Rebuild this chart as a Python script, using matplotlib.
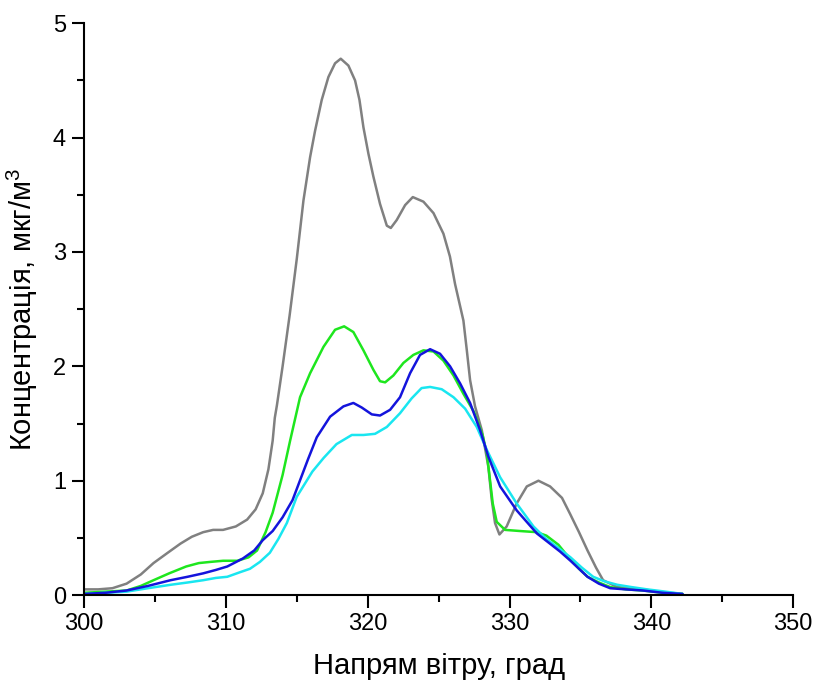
import matplotlib
matplotlib.use("Agg")
import matplotlib.pyplot as plt
from matplotlib.ticker import MultipleLocator

plt.rcParams['font.family'] = ['Liberation Sans', 'DejaVu Sans']
plt.rcParams['mathtext.fontset'] = 'custom'
plt.rcParams['mathtext.rm'] = 'Liberation Sans'
plt.rcParams['mathtext.it'] = 'Liberation Sans'

# Gray series
gray_x = [300, 301, 302, 303, 304, 304.9, 305.9, 306.8, 307.6, 308.4, 309.1, 309.8, 310.7,
          311.5, 312.1, 312.6, 313.0, 313.3, 313.45, 313.6, 314.0, 314.5, 315.0, 315.47,
          315.94, 316.29, 316.76, 317.23, 317.7, 318.1, 318.64, 319.11, 319.42, 319.7,
          320.05, 320.4, 320.87, 321.35, 321.63, 322.05, 322.64, 323.18, 323.93, 324.64,
          325.34, 325.8, 326.16, 326.75, 326.99, 327.22, 327.57, 328.05, 328.51, 328.75,
          328.98, 329.29, 329.8, 330.5, 331.22, 332.04, 332.86, 333.7, 334.27, 334.9,
          335.5, 336.1, 336.6, 337.6, 338.5, 339.4, 340.5, 342.2]
gray_y = [0.05, 0.05, 0.06, 0.10, 0.18, 0.28, 0.37, 0.45, 0.51, 0.55, 0.57, 0.57, 0.60,
          0.66, 0.75, 0.89, 1.10, 1.35, 1.55, 1.66, 2.00, 2.45, 2.94, 3.45,
          3.83, 4.06, 4.33, 4.53, 4.65, 4.69, 4.63, 4.50, 4.33, 4.09,
          3.86, 3.66, 3.42, 3.23, 3.21, 3.28, 3.41, 3.48, 3.44, 3.34,
          3.16, 2.96, 2.72, 2.40, 2.14, 1.88, 1.65, 1.44, 1.12, 0.83,
          0.63, 0.53, 0.60, 0.80, 0.95, 1.00, 0.95, 0.85, 0.71, 0.55,
          0.39, 0.24, 0.13, 0.07, 0.06, 0.05, 0.03, 0.01]

# Green series
green_x = [300, 301.5, 303, 304, 304.9, 306, 307.2, 308.1, 308.9, 309.8, 310.8, 311.6,
           312.2, 312.8, 313.3, 314.0, 314.53, 315.23, 315.94, 316.88, 317.7, 318.34,
           318.99, 319.7, 320.4, 320.87, 321.23, 321.81, 322.52, 323.22, 323.93, 324.64,
           325.34, 326.05, 326.75, 327.5, 328.1, 328.4, 328.63, 328.82, 329.1, 329.69,
           330.75, 331.92, 332.6, 333.45, 334.3, 334.9, 335.5, 336.3, 337.1, 338.2,
           339.4, 340.8, 342.2]
green_y = [0.02, 0.03, 0.04, 0.08, 0.13, 0.19, 0.25, 0.28, 0.29, 0.30, 0.30, 0.33,
           0.39, 0.55, 0.72, 1.05, 1.35, 1.73, 1.94, 2.17, 2.32, 2.35,
           2.30, 2.14, 1.97, 1.87, 1.86, 1.92, 2.03, 2.10, 2.14, 2.13,
           2.05, 1.92, 1.76, 1.60, 1.40, 1.24, 1.00, 0.80, 0.64, 0.57,
           0.56, 0.55, 0.52, 0.44, 0.31, 0.23, 0.16, 0.11, 0.07, 0.05,
           0.04, 0.02, 0.01]

# Blue series
blue_x = [300, 301.5, 303, 304.5, 306.1, 307.3, 308.4, 309.3, 310.1, 311.2, 312.0, 312.6,
          313.3, 314.0, 314.7, 315.8, 316.41, 317.35, 318.29, 318.99, 319.58, 320.29,
          320.87, 321.58, 322.28, 322.99, 323.69, 324.4, 325.1, 325.81, 326.52, 327.22,
          327.93, 328.51, 329.34, 330.51, 331.92, 333.57, 334.3, 335.5, 336.3, 337.1,
          338.2, 339.4, 340.8, 342.2]
blue_y = [0.01, 0.02, 0.04, 0.08, 0.13, 0.16, 0.19, 0.22, 0.25, 0.32, 0.39, 0.48,
          0.56, 0.68, 0.83, 1.19, 1.38, 1.56, 1.65, 1.68, 1.64, 1.58,
          1.57, 1.62, 1.73, 1.94, 2.10, 2.15, 2.11, 2.00, 1.85, 1.68,
          1.44, 1.21, 0.95, 0.74, 0.54, 0.38, 0.30, 0.16, 0.10, 0.06,
          0.05, 0.04, 0.02, 0.01]

# Cyan series
cyan_x = [300, 301.5, 303, 304.5, 306.1, 307.3, 308.4, 309.3, 310.1, 311.0, 311.7, 312.4,
          313.1, 313.7, 314.3, 315.0, 316.1, 316.9, 317.8, 318.88, 319.7, 320.52, 321.35,
          322.28, 323.1, 323.8, 324.4, 325.22, 326.05, 326.87, 327.69, 328.4, 329.34,
          330.51, 331.69, 332.6, 333.57, 334.3, 335.1, 335.9, 336.7, 337.6, 338.6,
          339.7, 341.0, 342.2]
cyan_y = [0.01, 0.02, 0.03, 0.06, 0.09, 0.11, 0.13, 0.15, 0.16, 0.20, 0.23, 0.29,
          0.37, 0.49, 0.63, 0.86, 1.08, 1.20, 1.32, 1.40, 1.40, 1.41, 1.47,
          1.59, 1.72, 1.81, 1.82, 1.80, 1.73, 1.63, 1.47, 1.27, 1.03,
          0.80, 0.60, 0.49, 0.40, 0.33, 0.24, 0.16, 0.12, 0.09, 0.07,
          0.05, 0.03, 0.01]

x_label = 'Напрям вітру, град'
y_label = r'Концентрація, мкг/м$^{3}$'

fig = plt.figure(figsize=(8.16, 6.84), dpi=100)
ax = fig.add_axes([0.103, 0.130, 0.869, 0.836])

lw = 1.8
kw = dict(lw=lw, solid_joinstyle='round', solid_capstyle='round')
ax.plot(gray_x, gray_y, color='#808080', **kw)
ax.plot(green_x, green_y, color='#1ee61e', **kw)
ax.plot(cyan_x, cyan_y, color='#19e6f0', **kw)
ax.plot(blue_x, blue_y, color='#1414dc', **kw)

ax.set_xlim(300, 350)
ax.set_ylim(0, 5)
ax.xaxis.set_major_locator(MultipleLocator(10))
ax.xaxis.set_minor_locator(MultipleLocator(5))
ax.yaxis.set_major_locator(MultipleLocator(1))
ax.yaxis.set_minor_locator(MultipleLocator(0.5))

for s in ['top', 'right']:
    ax.spines[s].set_visible(False)
for s in ['left', 'bottom']:
    ax.spines[s].set_linewidth(1.5)

ax.tick_params(which='major', direction='out', length=9, width=1.5, labelsize=17, pad=4)
ax.tick_params(which='minor', direction='out', length=5, width=1.5)

ax.set_xlabel(x_label, fontsize=21)
ax.set_ylabel(y_label, fontsize=21)
ax.xaxis.set_label_coords(0.5, -0.100)
ax.yaxis.set_label_coords(-0.062, 0.5)

fig.savefig('out.png', dpi=100)
